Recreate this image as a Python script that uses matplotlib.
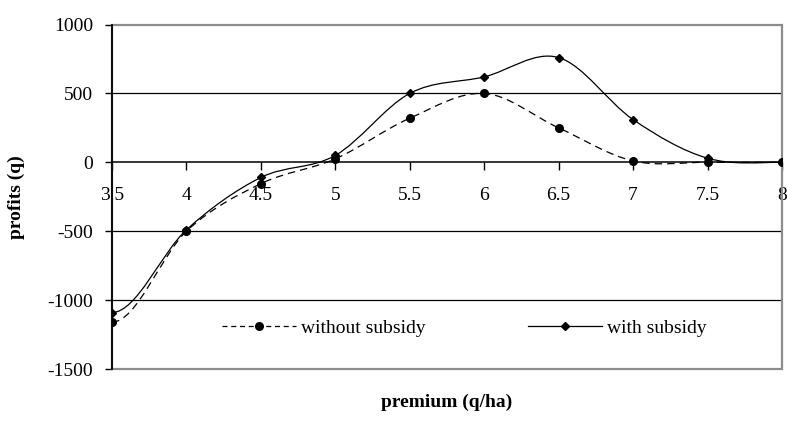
import numpy as np
import matplotlib
matplotlib.use("Agg")
import matplotlib.pyplot as plt
from matplotlib.path import Path
from matplotlib.patches import PathPatch, Rectangle
from matplotlib.lines import Line2D

premium = [3.5, 4, 4.5, 5, 5.5, 6, 6.5, 7, 7.5, 8]
without_subsidy = [-1160, -500, -155, 25, 320, 500, 250, 10, 0, 0]
with_subsidy = [-1090, -490, -110, 50, 500, 620, 760, 310, 30, 0]
yticks = [-1500, -1000, -500, 0, 500, 1000]

plt.rcParams['font.family'] = ['Liberation Serif', 'DejaVu Serif']
FS = 14


def smooth_path(x, y):
    # bezier through every point (spreadsheet-style smoothed line),
    # ends leave/arrive flat
    pts = np.column_stack([x, y]).astype(float)
    n = len(pts)
    verts = [pts[0]]
    codes = [Path.MOVETO]
    for i in range(n - 1):
        p1 = pts[i]
        p2 = pts[i + 1]
        h = (p2[0] - p1[0]) / 3.0
        if i == 0:
            c1 = p1 + np.array([h, 0.0])
        else:
            c1 = p1 + (p2 - pts[i - 1]) / 6.0
        if i == n - 2:
            c2 = p2 - np.array([h, 0.0])
        else:
            c2 = p2 - (pts[i + 2] - p1) / 6.0
        verts += [c1, c2, p2]
        codes += [Path.CURVE4] * 3
    return Path(verts, codes)


fig = plt.figure(figsize=(7.87, 4.21), dpi=100)
ax = fig.add_axes([0.1423, 0.1235, 0.8513, 0.8183])
ax.set_xlim(3.5, 8)
ax.set_ylim(-1500, 1000)

# horizontal gridlines
for v in [-1000, -500, 500]:
    ax.axhline(v, color='black', lw=0.9, zorder=1)

# plot area border
ax.add_patch(Rectangle((0, 0), 1, 1, transform=ax.transAxes, fill=False,
                       edgecolor='#8c8c8c', lw=1.6, zorder=2, clip_on=False))

ax.add_patch(PathPatch(smooth_path(premium, without_subsidy), fill=False,
                       edgecolor='black', lw=0.9, linestyle=(0, (6, 4)), zorder=3))
ax.plot(premium, without_subsidy, linestyle='none', marker='o', ms=5.5,
        color='black', zorder=4)

ax.add_patch(PathPatch(smooth_path(premium, with_subsidy), fill=False,
                       edgecolor='black', lw=0.9, zorder=3))
ax.plot(premium, with_subsidy, linestyle='none', marker='D', ms=4,
        color='black', zorder=4)

for s in ['top', 'right']:
    ax.spines[s].set_visible(False)
ax.spines['left'].set_linewidth(1.3)
ax.spines['left'].set_zorder(5)
ax.spines['bottom'].set_position(('data', 0))
ax.spines['bottom'].set_linewidth(1.1)

ax.set_xticks(premium)
ax.set_xticklabels([f'{p:g}' for p in premium])
ax.set_yticks(yticks)
ax.set_yticklabels([str(t) for t in yticks])
ax.tick_params(axis='x', direction='out', length=6, width=1, pad=11.5, labelsize=FS)
ax.tick_params(axis='y', direction='out', length=5, width=1, pad=8.5, labelsize=FS)

ax.set_ylabel('profits (q)', fontsize=FS, fontweight='bold', labelpad=16)
fig.text(0.568, 0.045, 'premium (q/ha)', fontsize=FS, fontweight='bold',
         ha='center', va='center')

handles = [
    Line2D([], [], color='black', lw=0.9, linestyle=(0, (4, 3)), marker='o', ms=5.5),
    Line2D([], [], color='black', lw=0.9, marker='D', ms=4),
]
ax.legend(handles, ['without subsidy', 'with subsidy'], ncol=2, frameon=False,
          loc='center left', bbox_to_anchor=(0.164, 0.119), fontsize=FS,
          borderpad=0, borderaxespad=0, handlelength=3.8, handletextpad=0.25,
          columnspacing=5.3)

fig.savefig('out.png', dpi=100)
